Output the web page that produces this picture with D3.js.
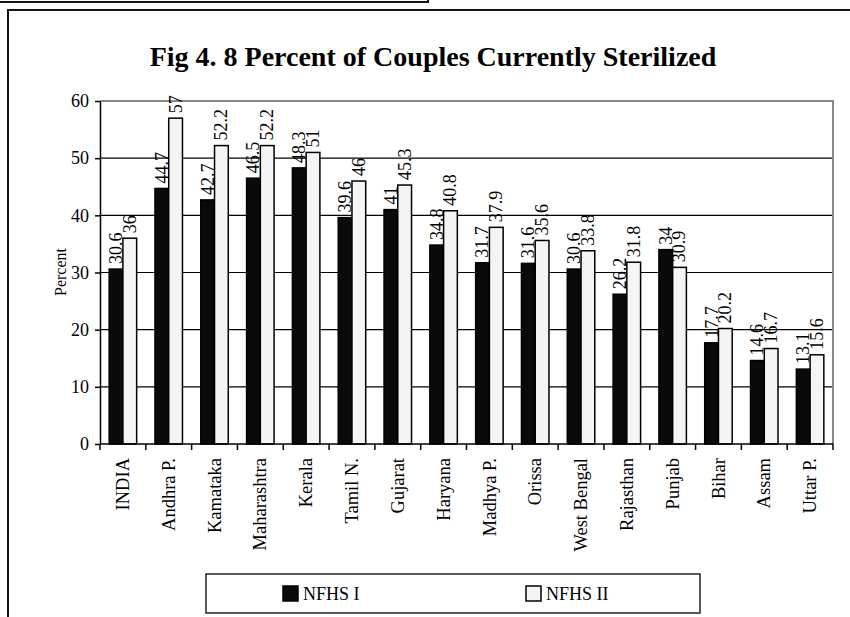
<!DOCTYPE html>
<html>
<head>
<meta charset="utf-8">
<script src="https://cdn.jsdelivr.net/npm/d3@7/dist/d3.min.js"></script>
<style>
  html, body { margin: 0; padding: 0; background: #fff; }
  svg { display: block; }
  svg text { font-family: "Liberation Serif", "DejaVu Serif", serif; fill: #000; }
</style>
</head>
<body>
<svg id="chart" width="850" height="617"></svg>
<script>
// States surveyed, in display order
const categories = ["INDIA", "Andhra P.", "Kamataka", "Maharashtra", "Kerala", "Tamil N.",
  "Gujarat", "Haryana", "Madhya P.", "Orissa", "West Bengal", "Rajasthan", "Punjab",
  "Bihar", "Assam", "Uttar P."];
// Percent of couples currently sterilized, per survey round
const nfhs1 = [30.6, 44.7, 42.7, 46.5, 48.3, 39.6, 41, 34.8, 31.7, 31.6, 30.6, 26.2, 34, 17.7, 14.6, 13.1];
const nfhs2 = [36, 57, 52.2, 52.2, 51, 46, 45.3, 40.8, 37.9, 35.6, 33.8, 31.8, 30.9, 20.2, 16.7, 15.6];
const seriesNames = ["NFHS I", "NFHS II"];
const yTicks = [0, 10, 20, 30, 40, 50, 60];

const seriesValues = [nfhs1, nfhs2];
const seriesFill = ["#0a0a0a", "#f4f4f4"];
const FONT = "Liberation Serif";

const svg = d3.select("#chart");
const plot = { left: 100, top: 101, right: 833, bottom: 444 };

// Page frame lines
svg.append("path").attr("d", "M0,2H428V0").attr("fill", "none").attr("stroke", "#111").attr("stroke-width", 2);
svg.append("path").attr("d", "M8,619V10H852").attr("fill", "none").attr("stroke", "#111").attr("stroke-width", 2);

// Title
svg.append("text")
  .attr("x", 433).attr("y", 66)
  .attr("text-anchor", "middle")
  .attr("font-family", FONT)
  .attr("font-weight", "bold")
  .attr("font-size", 28)
  .text("Fig 4. 8 Percent of Couples Currently Sterilized");

const x = d3.scaleBand().domain(categories).range([plot.left, plot.right]);
const bw = x.bandwidth();
const xs = d3.scaleBand().domain(seriesNames).range([0.2 * bw, 0.8 * bw]);
const y = d3.scaleLinear().domain([0, 60]).range([plot.bottom, plot.top]);

// Horizontal gridlines
svg.append("g").selectAll("line")
  .data(yTicks.filter(t => t > 0 && t < 60))
  .join("line")
  .attr("x1", plot.left).attr("x2", plot.right)
  .attr("y1", d => y(d)).attr("y2", d => y(d))
  .attr("stroke", "#000").attr("stroke-width", 1.2);

// Plot area border (top and right)
svg.append("path")
  .attr("d", `M${plot.left},${y(60)}H${plot.right}V${plot.bottom}`)
  .attr("fill", "none").attr("stroke", "#888").attr("stroke-width", 2);

// Bars
const rows = categories.map((c, i) => ({ c, vals: seriesValues.map((s, j) => ({ name: seriesNames[j], v: s[i], j })) }));
const groups = svg.append("g").selectAll("g")
  .data(rows).join("g")
  .attr("transform", d => `translate(${x(d.c)},0)`);

groups.selectAll("rect")
  .data(d => d.vals).join("rect")
  .attr("x", d => xs(d.name))
  .attr("width", xs.bandwidth())
  .attr("y", d => y(d.v))
  .attr("height", d => y(0) - y(d.v))
  .attr("fill", d => seriesFill[d.j])
  .attr("stroke", "#000")
  .attr("stroke-width", 1.5);

// Value labels, rotated above each bar
groups.selectAll("text")
  .data(d => d.vals).join("text")
  .attr("transform", d => `translate(${xs(d.name) + xs.bandwidth() / 2},${y(d.v) - 5}) rotate(-90)`)
  .attr("dy", "0.33em")
  .attr("font-family", FONT)
  .attr("font-size", 18)
  .text(d => d.v);

// Y axis
const yAxis = d3.axisLeft(y).tickValues(yTicks).tickSize(5).tickPadding(6).tickSizeOuter(0);
const gy = svg.append("g").attr("transform", `translate(${plot.left},0)`).call(yAxis)
  .attr("font-family", FONT).attr("font-size", 18);
gy.select(".domain").attr("stroke", "#000").attr("stroke-width", 1.5);
gy.selectAll(".tick line").attr("stroke", "#000").attr("stroke-width", 1.5);
gy.selectAll(".tick text").attr("fill", "#000");

// X axis with ticks between categories
svg.append("line")
  .attr("x1", plot.left).attr("x2", plot.right)
  .attr("y1", plot.bottom).attr("y2", plot.bottom)
  .attr("stroke", "#000").attr("stroke-width", 1.5);
const boundaries = categories.map(c => x(c)).concat([plot.right]);
svg.append("g").selectAll("line")
  .data(boundaries).join("line")
  .attr("x1", d => d).attr("x2", d => d)
  .attr("y1", plot.bottom).attr("y2", plot.bottom + 6)
  .attr("stroke", "#000").attr("stroke-width", 1.5);

svg.append("g").selectAll("text")
  .data(categories).join("text")
  .attr("transform", d => `translate(${x(d) + bw / 2},${plot.bottom + 14}) rotate(-90)`)
  .attr("text-anchor", "end")
  .attr("dy", "0.33em")
  .attr("font-family", FONT)
  .attr("font-size", 18.5)
  .text(d => d);

// Y axis title
svg.append("text")
  .attr("transform", `translate(61,272) rotate(-90)`)
  .attr("text-anchor", "middle")
  .attr("dy", "0.33em")
  .attr("font-family", FONT)
  .attr("font-size", 16)
  .text("Percent");

// Legend
const legend = svg.append("g");
legend.append("rect")
  .attr("x", 206).attr("y", 574).attr("width", 494).attr("height", 39)
  .attr("fill", "#fff").attr("stroke", "#222").attr("stroke-width", 1.5);
const legendX = [283, 526];
seriesNames.forEach((name, j) => {
  legend.append("rect")
    .attr("x", legendX[j]).attr("y", 586).attr("width", 15).attr("height", 15)
    .attr("fill", seriesFill[j]).attr("stroke", "#000").attr("stroke-width", 1.5);
  legend.append("text")
    .attr("x", legendX[j] + 20).attr("y", 600)
    .attr("font-family", FONT)
    .attr("font-size", 18)
    .text(name);
});
</script>
</body>
</html>
